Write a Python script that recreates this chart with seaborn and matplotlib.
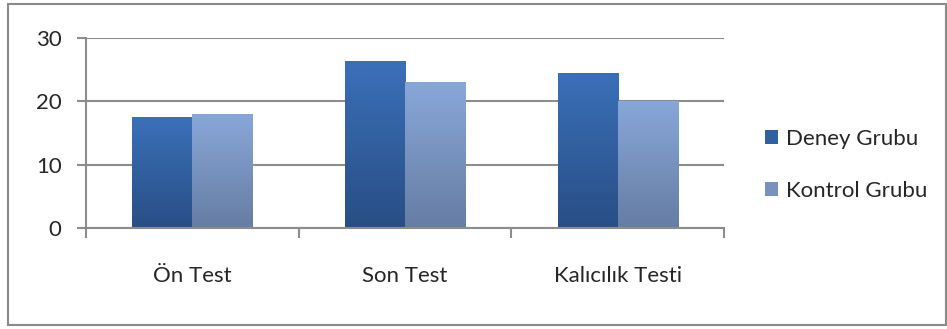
import matplotlib
matplotlib.use("Agg")
import matplotlib.pyplot as plt
import matplotlib.colors as mcolors
from matplotlib.patches import Patch, Rectangle
import numpy as np
import pandas as pd
import seaborn as sns

categories = ["Ön Test", "Son Test", "Kalıcılık Testi"]
groups = ["Deney Grubu", "Kontrol Grubu"]
deney = [17.5, 26.4, 24.5]
kontrol = [18.0, 23.0, 20.1]
yticks = [0, 10, 20, 30]

df = pd.DataFrame({
    "Test": categories * 2,
    "Grup": [groups[0]] * len(categories) + [groups[1]] * len(categories),
    "Puan": deney + kontrol,
})

sns.set_theme(style="white")
plt.rcParams['font.family'] = ['Lato', 'DejaVu Sans']

top_colors = {"Deney Grubu": "#3B70B9", "Kontrol Grubu": "#88A7D9"}
bot_colors = {"Deney Grubu": "#284E85", "Kontrol Grubu": "#667DA3"}
mid_colors = {"Deney Grubu": "#3160A0", "Kontrol Grubu": "#7892BF"}

fig = plt.figure(figsize=(9.47, 3.29), dpi=100)
ax = fig.add_axes([86 / 947, 1 - 228 / 329, (724 - 86) / 947, 190 / 329])

sns.barplot(data=df, x="Test", y="Puan", hue="Grup", order=categories,
            hue_order=groups, palette=mid_colors, width=0.565, dodge=True,
            saturation=1, errorbar=None, legend=False, edgecolor="none", ax=ax)

# vertical gradient fill for each bar
for cont, g in zip(ax.containers, groups):
    c_top = np.array(mcolors.to_rgb(top_colors[g]))
    c_bot = np.array(mcolors.to_rgb(bot_colors[g]))
    t = np.linspace(0, 1, 256)[:, None]
    grad = (c_top[None, :] * (1 - t) + c_bot[None, :] * t)[:, None, :]
    for bar in cont:
        x, y = bar.get_x(), bar.get_y()
        w, h = bar.get_width(), bar.get_height()
        im = ax.imshow(grad, extent=[x, x + w, y, y + h], aspect="auto",
                       origin="upper", zorder=bar.get_zorder() + 0.1,
                       interpolation="bilinear")
        im.set_clip_path(bar)

grid_c = "#8c8c8c"
ax.set_xlim(-0.5, len(categories) - 0.5)
ax.set_ylim(0, 30)
ax.set_yticks(yticks)
ax.set_yticklabels([str(v) for v in yticks])
ax.yaxis.grid(True, color=grid_c, lw=1.5)
ax.xaxis.grid(False)
ax.set_axisbelow(True)
ax.set_xlabel("")
ax.set_ylabel("")

for s in ["top", "right"]:
    ax.spines[s].set_visible(False)
for s in ["left", "bottom"]:
    ax.spines[s].set_color(grid_c)
    ax.spines[s].set_linewidth(1.5)

ax.set_xticks(np.arange(-0.5, len(categories), 1.0), minor=True)
ax.tick_params(axis="x", which="minor", length=7, width=1.5, color=grid_c, direction="out", bottom=True)
ax.tick_params(axis="x", which="major", length=0, pad=27, labelsize=16, labelcolor="#262626")
ax.tick_params(axis="y", which="major", length=6.5, width=1.5, color=grid_c, direction="out", left=True,
               pad=11, labelsize=16, labelcolor="#262626")

handles = [Patch(facecolor=mid_colors[g], edgecolor="none", label=g) for g in groups]
fig.legend(handles=handles, loc="center left", bbox_to_anchor=(765 / 947, 1 - 165 / 329),
           frameon=False, fontsize=16, handlelength=0.6, handleheight=0.6,
           handletextpad=0.35, labelspacing=1.45, borderpad=0, borderaxespad=0,
           labelcolor="#262626")

fig.patches.append(Rectangle((8 / 947, 4 / 329), (946 - 8) / 947, (325 - 4) / 329,
                             transform=fig.transFigure, fill=False,
                             edgecolor="#8a8a8a", lw=1.5))

fig.savefig("out.png", dpi=100)
